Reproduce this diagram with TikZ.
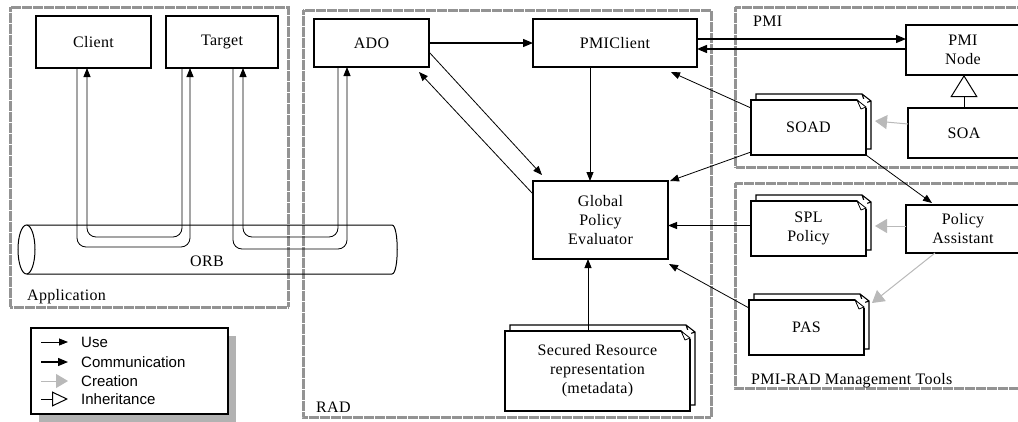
\documentclass[tikz,border=0pt]{standalone}
\usepackage{fontspec}
\setmainfont[LetterSpace=2]{Liberation Serif}
\newfontfamily\legendfont{Liberation Sans}
\usetikzlibrary{arrows.meta, positioning, shadows, backgrounds}

\begin{document}
\begin{tikzpicture}[x=1pt, y=-1pt, >={Triangle[length=9pt,width=7pt]},
    font=\fontsize{16}{19}\selectfont,
    box/.style={draw, line width=1.1pt, fill=white, align=center, inner sep=1pt, outer sep=0pt},
    docbox/.style={box, minimum width=115pt, minimum height=55pt},
    area/.style={draw=gray!85, line width=3pt, dash pattern=on 0.5pt off 0.6pt},
    lbl/.style={anchor=west, inner sep=0pt},
    use/.style={->, line width=0.8pt},
    comm/.style={-{Triangle[length=10pt,width=8pt]}, line width=1.3pt},
    create/.style={-{Triangle[length=12pt,width=14pt]}, draw=gray!55, line width=1pt},
    inherit/.style={-{Triangle[open,fill=white,length=22pt,width=27pt]}, line width=1pt},
    lgtext/.style={font=\legendfont\fontsize{15}{18}\selectfont, anchor=west, inner sep=0pt}]

	\useasboundingbox (0,0) rectangle (1018,421);
	\clip (0,0) rectangle (1018,421);

	% --- Areas
	\draw[area] (10,7) rectangle (288,307);
	\draw[area] (303,10) rectangle (711,417);
	\draw[area] (735,7) rectangle (1024,167);
	\draw[area] (735,183) rectangle (1024,388);
	\node[lbl] (appl) at (27,297) {Application};
	\node[lbl] (radl) at (316,407) {RAD};
	\node[lbl] (pmil) at (753,21) {PMI};
	\node[lbl] (tooll) at (751,381) {PMI-RAD Management Tools};

	% --- Application side
	\node[box, minimum width=115pt, minimum height=52pt] (client) at (93.5,42) {Client};
	\node[box, minimum width=112pt, minimum height=52pt] (target) at (222,42) {Target};

	% ORB bus
	\draw[line width=1pt] (27,225) -- (392,225) .. controls (399,225) and (399,274) .. (392,274) -- (27,274);
	\draw[line width=1pt] (26.5,249.5) ellipse [x radius=8.5, y radius=24.5];
	\node (orb) at (207,261) {ORB};

	% --- RAD
	\node[box, minimum width=115pt, minimum height=48pt] (ado) at (371.5,43) {ADO};
	\node[box, minimum width=164pt, minimum height=48pt] (pmiclient) at (615,43) {PMIClient};
	\node[box, minimum width=135pt, minimum height=78pt] (gpe) at (600.5,220) {Global\\Policy\\Evaluator};
	\node[docbox, minimum width=185pt, minimum height=80pt] (resource) at (597.5,371) {Secured Resource\\representation\\(metadata)};

	% --- PMI and tools
	\node[box, minimum width=114pt, minimum height=50pt] (pminode) at (963,50) {PMI\\Node};
	\node[box, minimum width=112pt, minimum height=50pt] (soa) at (964,133) {SOA};
	\node[docbox] (soad) at (808.5,127.5) {SOAD};
	\node[docbox] (spl) at (808.5,228.5) {SPL\\Policy};
	\node[box, minimum width=114pt, minimum height=48pt] (assistant) at (963,229) {Policy\\Assistant};
	\node[docbox] (pas) at (806.5,327.5) {PAS};

	% second sheet behind each document
	\begin{scope}[on background layer]
		\foreach \doc in {soad,spl,pas,resource}
			\draw[line width=1.1pt, fill=white] ([shift={(5pt,6pt)}]\doc.south west) -- ([shift={(5pt,6pt)}]\doc.south east)
				-- ([shift={(5pt,-1pt)}]\doc.north east) -- ([shift={(-4pt,6pt)}]\doc.north east)
				-- ([shift={(5pt,6pt)}]\doc.north west) -- cycle
				([shift={(-4pt,6pt)}]\doc.north east) -- ([shift={(-1pt,-3pt)}]\doc.north east) -- ([shift={(5pt,-1pt)}]\doc.north east);
	\end{scope}

	% folded corners
	\foreach \doc in {soad,spl,pas,resource}{
		\fill[white] ([shift={(-9pt,1pt)}]\doc.north east) -- ([shift={(1pt,1pt)}]\doc.north east) -- ([shift={(1pt,-8pt)}]\doc.north east) -- cycle;
		\draw[line width=0.8pt, line join=round, fill=white] ([xshift=-9pt]\doc.north east) -- ([yshift=-7pt]\doc.north east)
			-- ([shift={(-5pt,-9pt)}]\doc.north east) -- cycle;
	}

	% --- Calls through the ORB
	\draw[use, rounded corners=9pt] ([xshift=-16.5pt]client.south) -- ++(0,179) -| ([xshift=-32pt]target.south);
	\draw[use, rounded corners=9pt] ([xshift=-40pt]target.south) -- ++(0,169) -| ([xshift=-6.5pt]client.south);
	\draw[use, rounded corners=9pt] ([xshift=11pt]target.south) -- ++(0,181) -| ([xshift=-24.5pt]ado.south);
	\draw[use, rounded corners=9pt] ([xshift=-33.5pt]ado.south) -- ++(0,170) -| ([xshift=21pt]target.south);

	% --- Arrows
	\draw[comm] (ado.east) -- (pmiclient.west);
	\coordinate (pmiup) at ([yshift=4pt]pmiclient.east);
	\coordinate (pmidown) at ([yshift=-6pt]pmiclient.east);
	\draw[comm] (pmiup) -- (pmiup -| pminode.west);
	\draw[comm] (pmidown -| pminode.west) -- (pmidown);

	\draw[use] ([yshift=-9pt]ado.east) -- ([shift={(9pt,6pt)}]gpe.north west);
	\draw[use] ([yshift=-13pt]gpe.north west) -- ([shift={(-10pt,-5pt)}]ado.south east);
	\coordinate (pcdown) at ([xshift=-25pt]pmiclient.south);
	\draw[use] (pcdown) -- (pcdown |- gpe.north);
	\draw[use] ([yshift=-8pt]soad.north west) -- ([shift={(-26pt,-5pt)}]pmiclient.south east);
	\draw[use] ([yshift=3pt]soad.south west) -- ([xshift=2pt]gpe.north east);
	\coordinate (splin) at ([yshift=3pt]spl.west);
	\draw[use] (splin) -- (splin -| gpe.east);
	\draw[use] ([yshift=-8pt]pas.north west) -- ([shift={(1pt,-5pt)}]gpe.south east);
	\coordinate (resup) at ([xshift=-9.5pt]resource.north);
	\draw[use] (resup) -- (resup |- gpe.south);
	\draw[use] (soad.south east) -- ([shift={(26pt,2pt)}]assistant.north west);

	\draw[create] ([yshift=9pt]soa.west) -- ([shift={(9pt,6.5pt)}]soad.east);
	\draw[create] ([yshift=3pt]assistant.west) -- ([shift={(9pt,2.5pt)}]spl.east);
	\draw[create] ([xshift=-28pt]assistant.south) -- ([shift={(8pt,-3pt)}]pas.north east);

	\draw[inherit] (soa.north) -- (soa.north |- pminode.south);

	% --- Legend
	\node[draw, line width=1.2pt, fill=white, minimum width=197pt, minimum height=86pt,
		drop shadow={shadow xshift=8pt, shadow yshift=-8pt, fill=gray!60, opacity=1}] (legend) at (129.5,371) {};
	\node[lgtext] (lguse) at (81,342) {Use};
	\node[lgtext] (lgcomm) at (81,362) {Communication};
	\node[lgtext] (lgcreate) at (81,381) {Creation};
	\node[lgtext] (lginherit) at (81,399) {Inheritance};
	\draw[use] ([xshift=-40pt]lguse.west) -- ([xshift=-13pt]lguse.west);
	\draw[comm] ([xshift=-40pt]lgcomm.west) -- ([xshift=-13pt]lgcomm.west);
	\draw[create] ([xshift=-40pt]lgcreate.west) -- ([xshift=-13pt]lgcreate.west);
	\draw[-{Triangle[open,fill=white,length=16pt,width=15pt]}, line width=1pt] ([xshift=-40pt]lginherit.west) -- ([xshift=-13pt]lginherit.west);

\end{tikzpicture}
\end{document}
